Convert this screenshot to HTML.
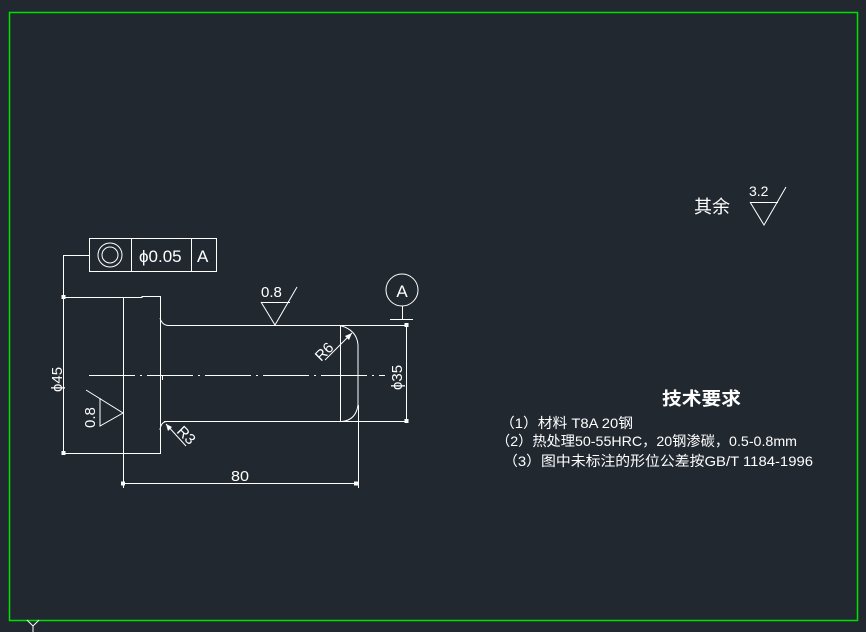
<!DOCTYPE html>
<html><head><meta charset="utf-8"><style>
html,body{margin:0;padding:0;background:#212830;}
svg{display:block;}
text{font-family:"Liberation Sans","Noto Sans CJK SC",sans-serif;fill:#fff;}
</style></head><body>
<svg width="866" height="632" viewBox="0 0 866 632" xmlns="http://www.w3.org/2000/svg">
<rect width="866" height="632" fill="#212830"/>
<rect x="9.5" y="12.5" width="848" height="608" fill="none" stroke="#00e000" stroke-width="1.5"/>
<g stroke="#fff" stroke-width="1" fill="none">
<line x1="33" y1="626" x2="27" y2="620"/><line x1="33" y1="626" x2="39" y2="620"/><line x1="33" y1="626" x2="33" y2="632"/>
<rect x="89.5" y="238.5" width="127" height="33"/>
<line x1="131.5" y1="238" x2="131.5" y2="272"/><line x1="191.5" y1="238" x2="191.5" y2="272"/>
<circle cx="110" cy="255" r="12"/><circle cx="110" cy="255" r="8"/>
<polyline points="89,255.5 63.5,255.5 63.5,297"/>
<polyline points="62,297.5 142,297.5 142,296.5 160.5,296.5 160.5,453.5 62,453.5"/>
<line x1="123.5" y1="297" x2="123.5" y2="488"/>
<line x1="63.5" y1="297" x2="63.5" y2="453"/>
<path d="M160,318 Q162,325 168,325.5 L408,325.5"/>
<path d="M164,421.5 L340,421.5 L358,421.5" />
<path d="M160,430 Q161,421 168,421.5"/>
<line x1="340.5" y1="325" x2="340.5" y2="421"/>
<path d="M340,325.5 Q357,330 358,345 L358,405 Q356,420 342,421.5"/>
<line x1="358.5" y1="405" x2="358.5" y2="488"/>
<line x1="358" y1="421.5" x2="408" y2="421.5"/>
<line x1="162.5" y1="375" x2="162.5" y2="380"/>
<line x1="89" y1="375.5" x2="385" y2="375.5" stroke-dasharray="46,5,2,5"/>
<line x1="406.5" y1="325" x2="406.5" y2="421"/>
<line x1="123" y1="483.5" x2="358" y2="483.5"/>
<circle cx="402" cy="290" r="16"/>
<line x1="402.5" y1="306" x2="402.5" y2="319"/>
<line x1="390" y1="319.5" x2="413" y2="319.5"/>
<polyline points="261,302.5 290,302.5"/>
<polyline points="261,302 275,325 297,287"/>
<polyline points="100,398 100,426 123,413 86,390"/>
<line x1="325" y1="360" x2="352" y2="333"/>
<line x1="166" y1="424" x2="186" y2="446"/>
<line x1="750" y1="202.5" x2="778" y2="202.5"/>
<polyline points="750,202 764,225 786,187"/>
</g>
<g fill="#fff">
<rect x="61.5" y="295" width="4" height="4"/><rect x="61.5" y="451" width="4" height="4"/>
<rect x="404.5" y="323" width="4" height="4"/><rect x="404.5" y="419" width="4" height="4"/>
<rect x="121" y="481.5" width="4" height="4"/><rect x="354" y="481.5" width="4" height="4"/>
<polygon points="352,333 345,336 349,340"/>
<polygon points="166,424 168,431 172,427"/>
</g>
<text x="139" y="262" font-size="17">ϕ0.05</text>
<text x="197" y="262" font-size="17">A</text>
<text x="402" y="297" font-size="17" text-anchor="middle">A</text>
<text x="261" y="297" font-size="15">0.8</text>
<text x="231" y="481" font-size="15" textLength="18" lengthAdjust="spacingAndGlyphs">80</text>
<text transform="translate(62,392) rotate(-90)" font-size="15">ϕ45</text>
<text transform="translate(402,390) rotate(-90)" font-size="15">ϕ35</text>
<text transform="translate(95,428) rotate(-90)" font-size="15">0.8</text>
<text transform="translate(321,362) rotate(-45)" font-size="15">R6</text>
<text transform="translate(176,432) rotate(45)" font-size="15">R3</text>
<text x="694" y="213" font-size="18">其余</text>
<text x="749" y="196" font-size="14">3.2</text>
<text x="662" y="405" font-size="18" font-weight="bold" textLength="79" lengthAdjust="spacingAndGlyphs">技术要求</text>
<text x="500" y="428" font-size="14" textLength="133" lengthAdjust="spacingAndGlyphs">（1）材料 T8A 20钢</text>
<text x="496" y="446" font-size="14" textLength="301" lengthAdjust="spacingAndGlyphs">（2）热处理50-55HRC，20钢渗碳，0.5-0.8mm</text>
<text x="503" y="466" font-size="14" textLength="310" lengthAdjust="spacingAndGlyphs">（3）图中未标注的形位公差按GB/T 1184-1996</text>
</svg>
</body></html>
